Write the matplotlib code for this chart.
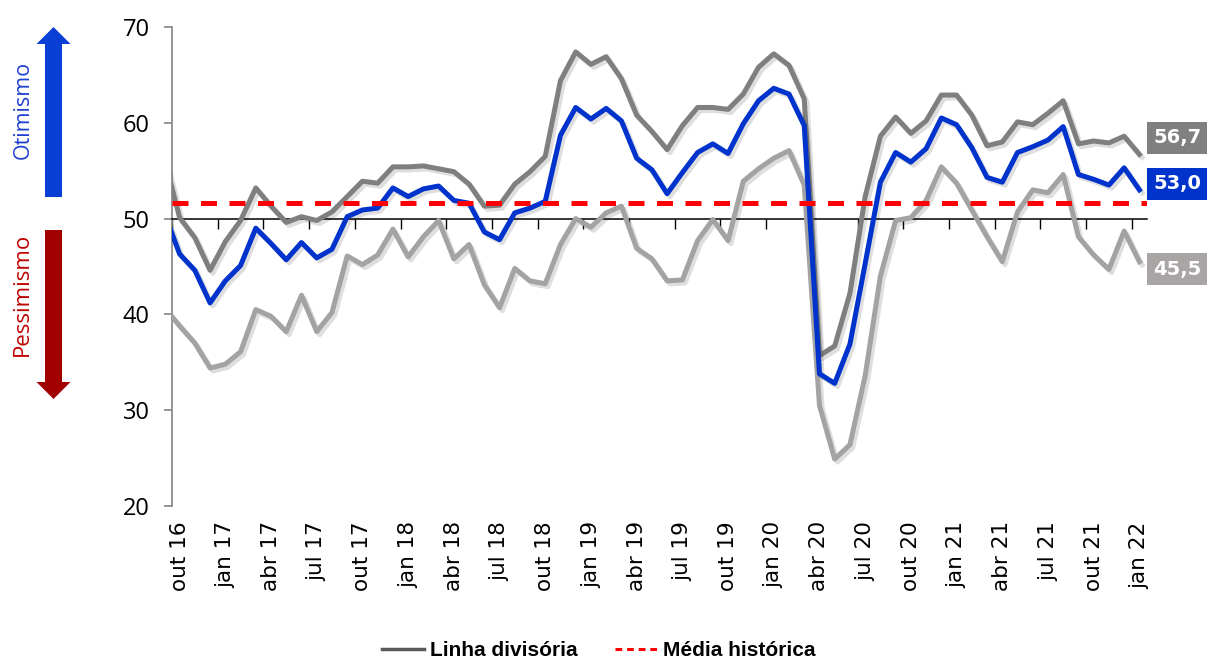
import matplotlib
matplotlib.use('Agg')
import matplotlib.pyplot as plt
import matplotlib.patheffects as pe
from matplotlib.patches import FancyArrow
from matplotlib.lines import Line2D
import numpy as np

# monthly values, set 16 .. jan 22 (set 16 only sits left of the axis start)
serie_alta = [56.3, 50.1, 48.0, 44.6, 47.6, 49.8, 53.2, 51.3, 49.6, 50.2, 49.8, 50.7, 52.3,
              53.9, 53.7, 55.4, 55.4, 55.5, 55.2, 54.9, 53.6, 51.3, 51.4, 53.6, 54.9, 56.5,
              64.4, 67.4, 66.1, 66.9, 64.6, 60.8, 59.1, 57.2, 59.7, 61.6, 61.6, 61.4, 63.0,
              65.8, 67.2, 66.0, 62.5, 35.7, 36.7, 42.2, 52.3, 58.6, 60.6, 58.9, 60.2, 62.9,
              62.9, 60.8, 57.6, 58.0, 60.1, 59.8, 61.0, 62.3, 57.8, 58.1, 57.9, 58.6, 56.7]
indice = [50.6, 46.3, 44.6, 41.2, 43.5, 45.1, 49.0, 47.4, 45.7, 47.5, 45.9, 46.8, 50.2,
          50.9, 51.1, 53.2, 52.3, 53.1, 53.4, 51.9, 51.6, 48.6, 47.8, 50.6, 51.1, 51.8,
          58.7, 61.6, 60.4, 61.5, 60.2, 56.3, 55.1, 52.6, 54.8, 56.9, 57.8, 56.8, 59.9,
          62.3, 63.6, 63.0, 59.7, 33.8, 32.8, 36.9, 45.3, 53.8, 56.9, 55.9, 57.3, 60.5,
          59.8, 57.4, 54.3, 53.8, 56.9, 57.5, 58.2, 59.6, 54.6, 54.1, 53.5, 55.3, 53.0]
serie_baixa = [40.7, 38.8, 37.0, 34.4, 34.8, 36.1, 40.5, 39.8, 38.2, 42.0, 38.2, 40.2, 46.1,
               45.2, 46.2, 48.9, 46.0, 48.1, 49.8, 45.8, 47.3, 43.1, 40.7, 44.8, 43.5, 43.2,
               47.3, 50.0, 49.1, 50.6, 51.3, 46.9, 45.8, 43.5, 43.6, 47.7, 49.9, 47.7, 53.9,
               55.2, 56.3, 57.1, 53.5, 30.5, 24.9, 26.4, 33.6, 44.0, 49.8, 50.1, 51.9, 55.4,
               53.7, 50.9, 48.1, 45.5, 50.7, 53.0, 52.7, 54.6, 48.1, 46.2, 44.7, 48.7, 45.5]
media_historica = 51.6
linha_divisoria = 50

tick_labels = ['out 16', 'jan 17', 'abr 17', 'jul 17', 'out 17', 'jan 18', 'abr 18', 'jul 18',
               'out 18', 'jan 19', 'abr 19', 'jul 19', 'out 19', 'jan 20', 'abr 20', 'jul 20',
               'out 20', 'jan 21', 'abr 21', 'jul 21', 'out 21', 'jan 22']

W, H = 1212, 662
fig = plt.figure(figsize=(W / 100, H / 100), dpi=100)
ax = fig.add_axes([172 / W, 1 - 506 / H, (1147 - 172) / W, (506 - 27) / H])

x = np.arange(-1, len(indice) - 1)
shadow = [pe.SimpleLineShadow(offset=(2, -2.2), shadow_color='black', alpha=0.13), pe.Normal()]
ax.plot(x, serie_alta, color='#7f7f7f', lw=3.6, path_effects=shadow, zorder=3)
ax.plot(x, serie_baixa, color='#a3a3a3', lw=3.6, path_effects=shadow, zorder=3)
ax.plot(x, indice, color='#0033cc', lw=3.6, path_effects=shadow, zorder=4)
ax.axhline(media_historica, color='#ff0000', lw=3.6, dashes=(3.2, 2.5), zorder=5)

ax.set_xlim(-0.5, 63.5)
ax.set_ylim(20, 70)
ax.set_yticks(range(20, 71, 10))

# horizontal axis crosses at the divide line
ax.spines['top'].set_visible(False)
ax.spines['right'].set_visible(False)
ax.spines['bottom'].set_position(('data', linha_divisoria))
ax.spines['bottom'].set_color('black')
ax.spines['bottom'].set_linewidth(1.1)
ax.spines['left'].set_color('#8c8c8c')
ax.spines['left'].set_linewidth(1.3)
ax.set_xticks(np.arange(-0.5, 63, 3))
ax.tick_params(axis='x', direction='out', length=7, width=1, color='black', labelbottom=False)
ax.tick_params(axis='y', direction='out', length=6, width=1.3, color='#8c8c8c', labelsize=17, pad=10)
for lab in ax.get_yticklabels():
    lab.set_fontfamily(['Open Sans', 'DejaVu Sans'])

sec = ax.secondary_xaxis('bottom')
sec.set_xticks(np.arange(0, 64, 3), labels=tick_labels, rotation=90, fontsize=15.5)
sec.tick_params(length=0, pad=11)
sec.spines['bottom'].set_visible(False)

# end-value boxes
def fpos(xp, yp):
    return xp / W, 1 - yp / H

for yp, txt, fc in [(138, '56,7', '#808080'), (184, '53,0', '#0033cc'), (269, '45,5', '#a9a5a5')]:
    fig.text(*fpos(1153, yp), txt, color='white', fontsize=14, fontweight='bold',
             ha='left', va='center',
             bbox=dict(boxstyle='square,pad=0.32', fc=fc, ec='none'))

# optimism / pessimism arrows
fig.add_artist(FancyArrow(0.535, (H - 197) / 100, 0, 1.70, width=0.17, head_width=0.34,
                          head_length=0.17, length_includes_head=True, color='#0a3fd6',
                          lw=0, transform=fig.dpi_scale_trans))
fig.add_artist(FancyArrow(0.535, (H - 230) / 100, 0, -1.69, width=0.17, head_width=0.34,
                          head_length=0.17, length_includes_head=True, color='#a00000',
                          lw=0, transform=fig.dpi_scale_trans))
fig.text(*fpos(23, 110), 'Otimismo', rotation=90, color='#1f3fd0', fontsize=15.5,
         ha='center', va='center', family=['Open Sans', 'DejaVu Sans'])
fig.text(*fpos(22, 294), 'Pessimismo', rotation=90, color='#c00000', fontsize=16,
         ha='center', va='center', family=['Open Sans', 'DejaVu Sans'])

handles = [Line2D([], [], color='#595959', lw=2.5),
           Line2D([], [], color='#ff0000', lw=2.2, dashes=(2.2, 1.6))]
fig.legend(handles, ['Linha divisória', 'Média histórica'], loc='center',
           bbox_to_anchor=fpos(599, 651), ncol=2, frameon=False,
           prop={'family': ['Liberation Sans', 'DejaVu Sans'], 'weight': 'bold', 'size': 15},
           handlelength=2.0, handletextpad=0.3, columnspacing=1.8)

fig.savefig('out.png', dpi=100)
